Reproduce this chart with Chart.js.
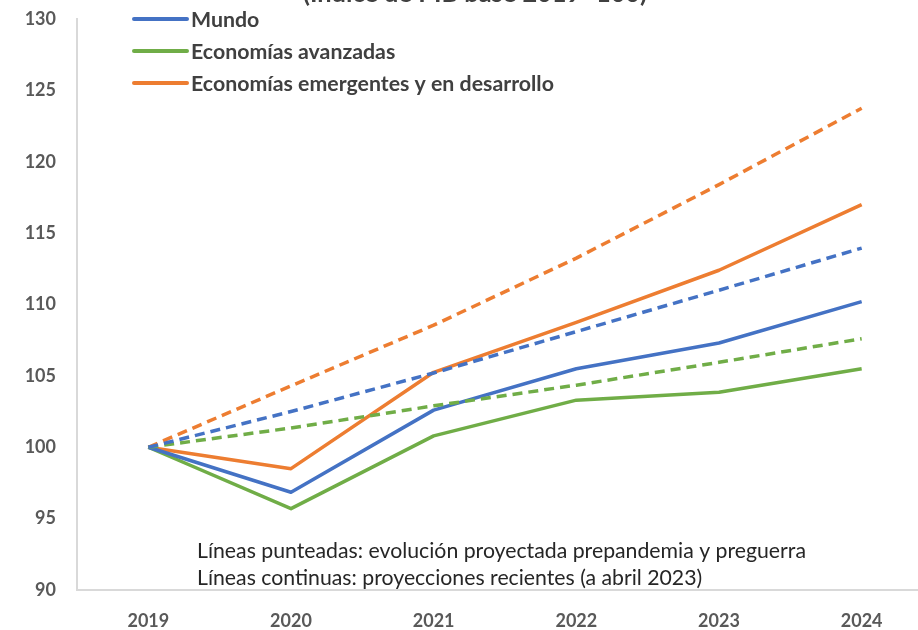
<!DOCTYPE html>
<html>
<head>
<meta charset="utf-8">
<script src="https://cdn.jsdelivr.net/npm/chart.js@4.4.1/dist/chart.umd.min.js"></script>
<style>
  html, body { margin: 0; padding: 0; background: #fff; overflow: hidden; width: 918px; height: 630px; }
  #wrap { position: absolute; left: 0; top: 0; width: 940px; height: 630px; }
</style>
</head>
<body>
<div id="wrap"><canvas id="c" width="940" height="630"></canvas></div>
<script>
// ---- data ----
const years = ['2019', '2020', '2021', '2022', '2023', '2024'];
const mundo = [100, 96.85, 102.6, 105.5, 107.3, 110.2];
const avanzadas = [100, 95.7, 100.8, 103.3, 103.85, 105.5];
const emergentes = [100, 98.5, 105.25, 108.75, 112.4, 117.0];
const mundoPre = [100, 102.5, 105.2, 108.1, 111.0, 113.95];
const avanzadasPre = [100, 101.35, 102.9, 104.35, 105.95, 107.6];
const emergentesPre = [100, 104.3, 108.55, 113.25, 118.4, 123.75];
const yTicks = [90, 95, 100, 105, 110, 115, 120, 125, 130];
const legendLabels = ['Mundo', 'Economías avanzadas', 'Economías emergentes y en desarrollo'];
const titleText = '(Índice de PIB base 2019=100)';
const noteLines = ['Líneas punteadas: evolución proyectada prepandemia y preguerra',
                   'Líneas continuas: proyecciones recientes (a abril 2023)'];

const BLUE = '#4472C4', GREEN = '#70AD47', ORANGE = '#ED7D31';
const legendColors = [BLUE, GREEN, ORANGE];

function ds(label, data, color, dashed) {
  return {
    label, data, borderColor: color, backgroundColor: color,
    borderWidth: 3.5, borderDash: dashed ? [10, 6] : [],
    pointRadius: 0, tension: 0, fill: false,
    borderCapStyle: 'butt', borderJoinStyle: 'round'
  };
}

function fitSize(ctx, text, weight, family, target) {
  ctx.font = weight + ' 100px ' + family;
  const w = ctx.measureText(text).width;
  return 100 * target / w;
}

const overlay = {
  id: 'overlay',
  afterDraw(chart) {
    const ctx = chart.ctx;
    ctx.save();
    const fam = 'Lato, "Open Sans", sans-serif';
    // title (cut off at top)
    let ts = fitSize(ctx, titleText, 'bold', fam, 344);
    ctx.font = 'bold ' + ts.toFixed(2) + 'px ' + fam;
    ctx.fillStyle = '#404040';
    ctx.textAlign = 'left';
    ctx.textBaseline = 'alphabetic';
    ctx.fillText(titleText, 303, 2);
    // legend
    let ls = fitSize(ctx, legendLabels[2], 'bold', fam, 363);
    ctx.font = 'bold ' + ls.toFixed(2) + 'px ' + fam;
    ctx.textBaseline = 'middle';
    for (let i = 0; i < legendLabels.length; i++) {
      const y = 19 + i * 32;
      ctx.strokeStyle = legendColors[i];
      ctx.lineWidth = 4;
      ctx.lineCap = 'round';
      ctx.beginPath(); ctx.moveTo(134, y); ctx.lineTo(187, y); ctx.stroke();
      ctx.fillStyle = '#404040';
      ctx.fillText(legendLabels[i], 191, y + 1);
    }
    // notes
    let ns = fitSize(ctx, noteLines[0], 'normal', fam, 609);
    ctx.font = 'normal ' + ns.toFixed(2) + 'px ' + fam;
    ctx.fillStyle = '#262626';
    ctx.fillText(noteLines[0], 197, 551);
    ctx.fillText(noteLines[1], 197, 578);
    ctx.restore();
  }
};

new Chart(document.getElementById('c'), {
  type: 'line',
  data: {
    labels: years,
    datasets: [
      ds('Mundo (prepandemia)', mundoPre, BLUE, true),
      ds('Economías avanzadas (prepandemia)', avanzadasPre, GREEN, true),
      ds('Economías emergentes y en desarrollo (prepandemia)', emergentesPre, ORANGE, true),
      ds(legendLabels[0], mundo, BLUE, false),
      ds(legendLabels[1], avanzadas, GREEN, false),
      ds(legendLabels[2], emergentes, ORANGE, false)
    ]
  },
  options: {
    responsive: false,
    animation: false,
    layout: { padding: { left: 0, right: 7, top: 19, bottom: 0 } },
    plugins: { legend: { display: false }, tooltip: { enabled: false }, title: { display: false } },
    scales: {
      x: {
        offset: true,
        grid: { display: false, drawTicks: false },
        border: { display: true, color: '#d9d9d9', width: 2 },
        ticks: { color: '#595959', font: { family: 'Lato', weight: 'bold', size: 18 }, padding: 20, maxRotation: 0 },
        afterFit(s) { s.height = 40; s.paddingLeft = 0; s.paddingRight = 0; }
      },
      y: {
        min: 90, max: 130,
        afterBuildTicks(s) { s.ticks = yTicks.map(v => ({ value: v })); },
        grid: { display: false, drawTicks: false },
        border: { display: true, color: '#d9d9d9', width: 2 },
        ticks: { color: '#595959', font: { family: 'Lato', weight: 'bold', size: 18 }, padding: 21 },
        afterFit(s) { s.width = 77; s.paddingTop = 0; s.paddingBottom = 0; }
      }
    }
  },
  plugins: [overlay]
});
</script>
</body>
</html>
